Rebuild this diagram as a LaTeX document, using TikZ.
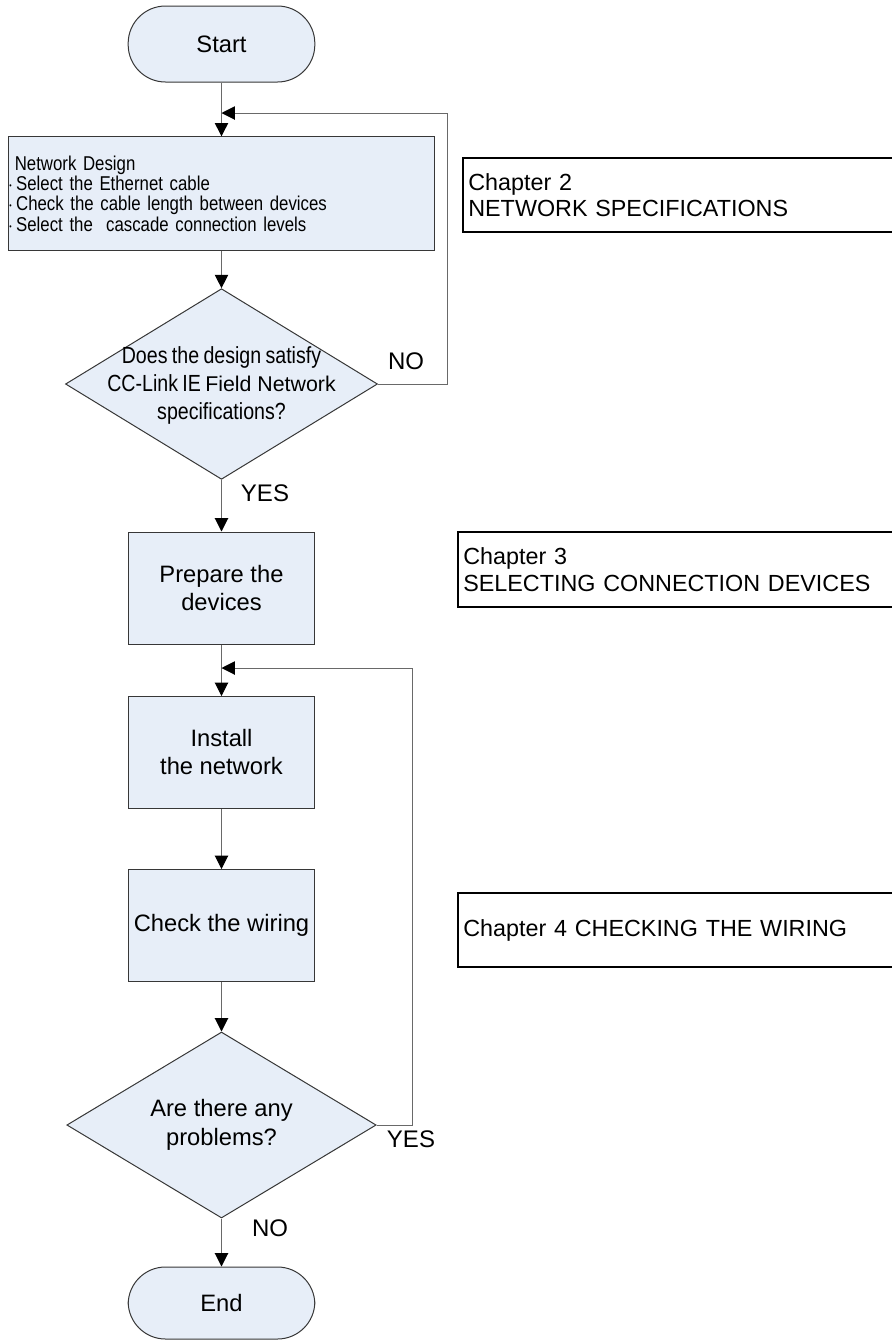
\documentclass[tikz,border=0pt]{standalone}
\usepackage{fontspec}
\setmainfont{Liberation Sans}
\newfontfamily\narrowfont[FakeStretch=0.84,WordSpace=0.8]{Liberation Sans}
\usetikzlibrary{shapes.geometric,arrows.meta}

\definecolor{boxfill}{RGB}{231,238,248}
\definecolor{linegray}{RGB}{105,105,105}
\definecolor{edgegray}{RGB}{55,55,55}

\newcommand{\bul}{\makebox[5pt][l]{\raisebox{1.5pt}{\fontsize{6}{6}\selectfont\textbullet}}}

\begin{document}
\begin{tikzpicture}[x=0.75pt,y=-0.75pt,
    terminal/.style={rectangle, rounded corners=28pt, draw=edgegray, fill=boxfill, line width=0.75pt, minimum width=140pt, minimum height=57pt, font=\fontsize{17.8}{21}\selectfont},
    process/.style={rectangle, draw=edgegray, fill=boxfill, line width=0.75pt, minimum width=140pt, minimum height=84pt, align=center, font=\fontsize{17.8}{21}\selectfont},
    decision/.style={diamond, draw=edgegray, fill=boxfill, line width=0.75pt, inner sep=0pt},
    asktext/.style={align=center, font=\fontsize{17.8}{21.5}\selectfont},
    chapter/.style={rectangle, draw=black, line width=1.5pt, anchor=west, align=left, text width=390pt, inner xsep=4pt, minimum height=56pt, font=\fontsize{17.5}{20}\selectfont},
    answer/.style={font=\fontsize{18}{20}\selectfont},
    flow/.style={draw=linegray, line width=0.75pt, -{Triangle[length=10pt,width=10pt,color=black]}}]

    \useasboundingbox (0,0) rectangle (892,1340);
    \clip (0,0) rectangle (892,1340);

    % flow chart
    \node [terminal] (start) at (221.5,44) {Start};
    \node [process, align=left, minimum width=320pt, minimum height=85pt, text width=318pt, inner xsep=1pt, font=\narrowfont\fontsize{15}{15.3}\selectfont] (design) at (221.5,193.5)
        {\hspace{4pt}Network Design\\\bul Select the Ethernet cable\\\bul Check the cable length between devices\\\bul Select the~ cascade connection levels};
    \node [decision, minimum width=234pt, minimum height=143pt] (q1) at (221.5,384) {};
    \node [asktext, font=\narrowfont\fontsize{17.5}{21}\selectfont] (q1text) at (221.5,385)
        {Does the design satisfy\\CC-Link IE {\rmfamily\fontsize{16}{21}\selectfont Field Network}\\specifications?};
    \node [process] (prep) at (221.5,588) {Prepare the\\devices};
    \node [process] (inst) at (221.5,752.5) {Install\\the network};
    \node [process] (chk) at (221.5,925.5) {Check the wiring};
    \node [decision, minimum width=232pt, minimum height=139.5pt] (q2) at (221.5,1125) {};
    \node [asktext] (q2text) at (221.5,1125) {Are there any\\problems?};
    \node [terminal, minimum height=54pt] (end) at (221.5,1303) {End};

    % chapter references
    \node [chapter] (ch2) at (462,195) {Chapter 2\\NETWORK SPECIFICATIONS};
    \node [chapter] (ch3) at (457,569.5) {Chapter 3\\SELECTING CONNECTION DEVICES};
    \node [chapter] (ch4) at (457,930) {Chapter 4 CHECKING THE WIRING};

    % loop-back points
    \coordinate (j1) at (221.5,113);
    \coordinate (r1) at (447,113);
    \coordinate (j2) at (221.5,668);
    \coordinate (r2) at (412,668);

    \draw [flow] (start) -- (design);
    \draw [flow] (design) -- (q1);
    \draw [flow] (q1) -- (prep);
    \draw [flow] (prep) -- (inst);
    \draw [flow] (inst) -- (chk);
    \draw [flow] (chk) -- (q2);
    \draw [flow] (q2) -- (end);
    \draw [flow] (q1.east) -| (r1) -- (j1);
    \draw [flow] (q2.east) -| (r2) -- (j2);

    \node [answer] (no1) at (406,361) {NO};
    \node [answer] (yes1) at (265,493) {YES};
    \node [answer] (yes2) at (411,1139) {YES};
    \node [answer] (no2) at (270,1228) {NO};
\end{tikzpicture}
\end{document}
